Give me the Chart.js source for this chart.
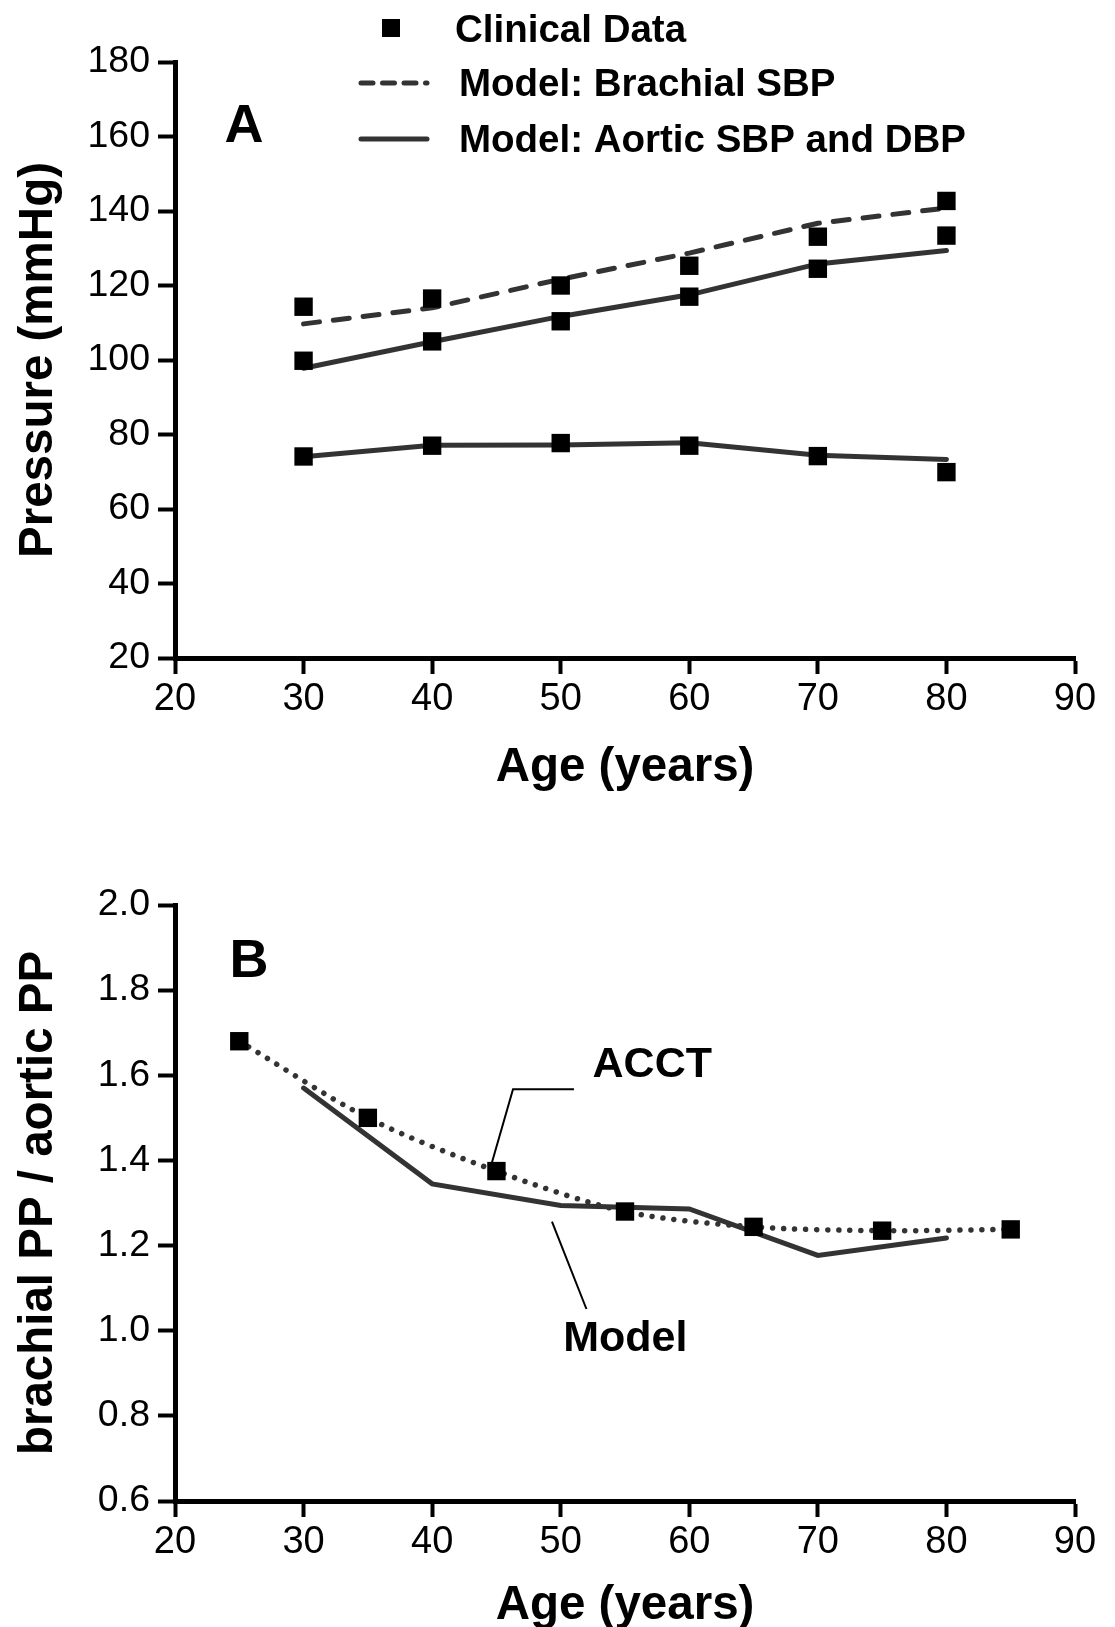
<!DOCTYPE html>
<html>
<head>
<meta charset="utf-8">
<script src="https://cdn.jsdelivr.net/npm/chart.js@4/dist/chart.umd.min.js"></script>
<style>
  html, body { margin:0; padding:0; background:#fff; overflow:hidden; width:1115px; height:1627px; }
  #wrapA { position:absolute; left:0; top:0; width:1115px; height:800px; }
  #wrapB { position:absolute; left:0; top:800px; width:1115px; height:845px; }
</style>
</head>
<body>
<div id="wrapA"><canvas id="cA" width="1115" height="800"></canvas></div>
<div id="wrapB"><canvas id="cB" width="1115" height="845"></canvas></div>
<script>
// ---------- DATA ----------
const agesA = [30, 40, 50, 60, 70, 80];
const clinicalBrachialSBP = [114.3, 116.5, 120.0, 125.3, 133.1, 142.7];
const clinicalAorticSBP   = [99.8, 105.0, 110.4, 117.0, 124.5, 133.4];
const clinicalAorticDBP   = [74.1, 77.0, 77.7, 77.0, 74.2, 69.9];
const modelBrachialSBP    = [109.7, 114.0, 121.7, 128.7, 136.7, 140.8];
const modelAorticSBP      = [97.8, 104.9, 111.7, 117.5, 125.8, 129.4];
const modelAorticDBP      = [74.0, 77.1, 77.2, 77.8, 74.4, 73.3];

const agesACCT  = [25, 35, 45, 55, 65, 75, 85];
const ratioACCT = [1.68, 1.50, 1.375, 1.28, 1.244, 1.235, 1.238];
const agesModelB  = [30, 40, 50, 60, 70, 80];
const ratioModelB = [1.57, 1.345, 1.294, 1.286, 1.177, 1.218];

const xTickValues  = [20, 30, 40, 50, 60, 70, 80, 90];
const yTickValuesA = [20, 40, 60, 80, 100, 120, 140, 160, 180];
const yTickValuesB = [0.6, 0.8, 1.0, 1.2, 1.4, 1.6, 1.8, 2.0];

const legendLabels = ['Clinical Data', 'Model: Brachial SBP', 'Model: Aortic SBP and DBP'];
const xTitle  = 'Age (years)';
const yTitleA = 'Pressure (mmHg)';
const yTitleB = 'brachial PP / aortic PP';

// ---------- STYLE ----------
const FONT = '"Liberation Sans", Arial, Helvetica, sans-serif';
const LINE_COLOR = '#333333';
const pts = (xs, ys) => xs.map((x, i) => ({x, y: ys[i]}));

function squares(xs, ys) {
  return { data: pts(xs, ys), showLine: false, pointStyle: 'rect', pointRadius: 13,
           pointHoverRadius: 13, pointBackgroundColor: '#000', pointBorderWidth: 0,
           borderWidth: 0, backgroundColor: '#000' };
}
function modelLine(xs, ys, dash) {
  return { data: pts(xs, ys), showLine: true, pointRadius: 0, borderColor: LINE_COLOR,
           borderWidth: 5, borderDash: dash || [], borderCapStyle: 'round',
           borderJoinStyle: 'miter', tension: 0, fill: false };
}

function xScale() {
  return {
    type: 'linear', min: 20, max: 90,
    afterBuildTicks: s => { s.ticks = xTickValues.map(v => ({value: v})); },
    ticks: { autoSkip: false, maxRotation: 0, color: '#000', padding: 3,
             font: { family: FONT, size: 38 } },
    grid: { drawOnChartArea: false, drawTicks: true, tickLength: 16, tickWidth: 4,
            tickColor: '#000', color: '#000' },
    border: { display: true, color: '#000', width: 5 },
    title: { display: true, text: xTitle, color: '#000',
             font: { family: FONT, size: 47.5, weight: 'bold' }, padding: { top: 0, bottom: 4 } }
  };
}
function yScale(min, max, tickVals, title, decimals) {
  return {
    type: 'linear', min, max,
    afterBuildTicks: s => { s.ticks = tickVals.map(v => ({value: v})); },
    ticks: { autoSkip: false, color: '#000', padding: 8,
             font: { family: FONT, size: 37.5 },
             callback: v => decimals ? Number(v).toFixed(decimals) : String(v) },
    grid: { drawOnChartArea: false, drawTicks: true, tickLength: 17, tickWidth: 4,
            tickColor: '#000', color: '#000' },
    border: { display: true, color: '#000', width: 5 },
    title: { display: true, text: title, color: '#000',
             font: { family: FONT, size: 47.5, weight: 'bold' }, padding: { top: 10, bottom: 0 } },
    afterFit: s => { s.width = 175; }
  };
}

// ---------- PLUGINS ----------
const legendPlugin = {
  id: 'legendA',
  afterDraw(chart) {
    const ctx = chart.ctx;
    ctx.save();
    ctx.font = 'bold 38.5px ' + FONT;
    ctx.fillStyle = '#000';
    ctx.textBaseline = 'middle';
    ctx.textAlign = 'left';
    // square
    ctx.fillRect(391 - 9, 28 - 9, 18, 18);
    ctx.fillText(legendLabels[0], 455, 31);
    // dashed
    ctx.strokeStyle = LINE_COLOR;
    ctx.lineWidth = 5;
    ctx.lineCap = 'round';
    ctx.setLineDash([12, 9.5]);
    ctx.beginPath(); ctx.moveTo(361, 83); ctx.lineTo(427, 83); ctx.stroke();
    ctx.fillText(legendLabels[1], 459, 85);
    // solid
    ctx.setLineDash([]);
    ctx.beginPath(); ctx.moveTo(361, 139); ctx.lineTo(427, 139); ctx.stroke();
    ctx.fillText(legendLabels[2], 459, 141);
    ctx.restore();
  }
};

function labelPlugin(id, labels, leaders) {
  return {
    id,
    afterDraw(chart) {
      const {ctx, scales: {x, y}} = chart;
      ctx.save();
      ctx.fillStyle = '#000';
      ctx.textAlign = 'center';
      ctx.textBaseline = 'middle';
      labels.forEach(l => {
        ctx.font = 'bold ' + l.size + 'px ' + FONT;
        ctx.fillText(l.text, x.getPixelForValue(l.x), y.getPixelForValue(l.y));
      });
      ctx.strokeStyle = '#000';
      ctx.lineWidth = 2;
      leaders.forEach(path => {
        ctx.beginPath();
        path.forEach((p, i) => {
          const px = x.getPixelForValue(p[0]), py = y.getPixelForValue(p[1]);
          if (i === 0) ctx.moveTo(px, py); else ctx.lineTo(px, py);
        });
        ctx.stroke();
      });
      ctx.restore();
    }
  };
}

const common = {
  responsive: false, animation: false, events: [],
  plugins: { legend: { display: false }, tooltip: { enabled: false } },
};

// ---------- CHART A ----------
new Chart(document.getElementById('cA'), {
  type: 'line',
  data: { datasets: [
    squares(agesA, clinicalBrachialSBP),
    squares(agesA, clinicalAorticSBP),
    squares(agesA, clinicalAorticDBP),
    modelLine(agesA, modelBrachialSBP, [16, 14]),
    modelLine(agesA, modelAorticSBP),
    modelLine(agesA, modelAorticDBP)
  ]},
  options: Object.assign({}, common, {
    layout: { padding: { top: 62, right: 40, left: 0, bottom: 0 } },
    scales: {
      x: Object.assign(xScale(), { afterFit: s => { s.height = 142; } }),
      y: yScale(20, 180, yTickValuesA, yTitleA, 0)
    }
  }),
  plugins: [legendPlugin, labelPlugin('labA', [{text: 'A', x: 25.37, y: 162.6, size: 54}], [])]
});

// ---------- CHART B ----------
new Chart(document.getElementById('cB'), {
  type: 'line',
  data: { datasets: [
    squares(agesACCT, ratioACCT),
    Object.assign(modelLine(agesACCT, ratioACCT, [0.01, 11]), { tension: 0.3, borderWidth: 5.5 }),
    modelLine(agesModelB, ratioModelB)
  ]},
  options: Object.assign({}, common, {
    layout: { padding: { top: 105, right: 40, left: 0, bottom: 0 } },
    scales: {
      x: (() => { const s = xScale(); s.title.padding = { top: 0, bottom: 11 };
                  s.afterFit = a => { a.height = 144; }; return s; })(),
      y: yScale(0.6, 2.0, yTickValuesB, yTitleB, 1)
    }
  }),
  plugins: [labelPlugin('labB', [
    {text: 'B', x: 25.76, y: 1.866, size: 54},
    {text: 'ACCT', x: 57.12, y: 1.624, size: 43},
    {text: 'Model', x: 55.02, y: 0.981, size: 43}
  ], [
    [[51.03, 1.567], [46.29, 1.567], [44.41, 1.370]],
    [[49.32, 1.256], [52.0, 1.051]]
  ])]
});
</script>
</body>
</html>
